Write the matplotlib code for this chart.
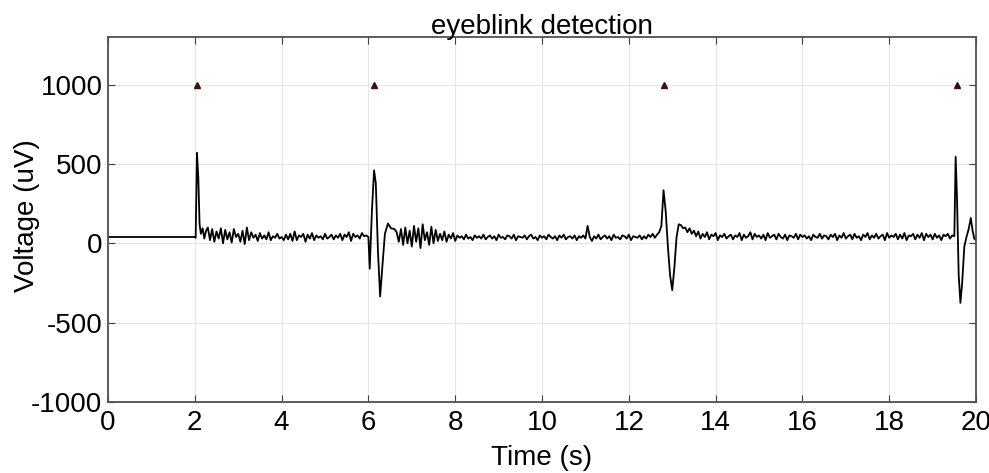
import numpy as np
import matplotlib
matplotlib.use("Agg")
import matplotlib.pyplot as plt

plt.rcParams['font.family'] = ['Liberation Sans', 'DejaVu Sans']
plt.rcParams['axes.unicode_minus'] = False

# flat start and the blink spikes (time s, voltage uV)
flat_t = [0.0, 2.0]
flat_v = [40, 40]

spike1_t = [2.02, 2.05, 2.08, 2.11, 2.14, 2.18, 2.22, 2.26]
spike1_v = [35, 570, 420, 120, 60, 95, 30, 80]

spike2_t = [6.0, 6.03, 6.08, 6.13, 6.17, 6.22, 6.27, 6.32, 6.38, 6.45, 6.52, 6.6]
spike2_v = [40, -160, 200, 460, 380, -50, -335, -150, 60, 125, 95, 90]

spike3_t = [12.7, 12.75, 12.8, 12.85, 12.9, 12.95, 13.0, 13.05, 13.1, 13.15, 13.2, 13.25]
spike3_v = [70, 110, 335, 200, -20, -200, -295, -150, 40, 120, 115, 95]

spike4_t = [19.5, 19.53, 19.56, 19.6, 19.64, 19.68, 19.73, 19.78, 19.83, 19.88, 19.92, 19.96, 20.0]
spike4_v = [45, 545, 300, -200, -375, -250, -20, 40, 90, 160, 80, 30, 20]

# background EEG between blinks
noise1_v = [100, 20, 90, 10, 75, 30, 95, 0, 85, 25,
            70, 5, 90, 40, 60, 10, 80, -5, 100, 20,
            70, 35, 55, 15, 65, 30, 50, 25, 70, 20,
            45, 35, 60, 30, 40, 20, 55, 25, 60, 15,
            75, 20, 50, 40, 60, 10, 55, 30, 65, 20,
            50, 35, 45, 25, 60, 30, 40, 55, 25, 50,
            35, 60, 20, 55, 40, 70, 15, 60, 40, 50,
            30, 65, 45, 50]

noise2_v = [70, 10, 90, -10, 100, 0, 80, -20, 110, 10, 95, -30, 120, 20, 70,
            -10, 105, 0, 85, 15, 60, 20, 75, 10, 55, 30, 65, 15, 50, 35,
            45, 25, 55, 30, 40, 20, 50, 35, 45, 30, 55, 25, 40, 50, 30,
            45, 20, 55, 35, 40, 25, 50, 45, 30, 55, 20, 45, 40, 35, 50,
            25, 45, 55, 30, 40, 20, 50, 35, 45, 25, 55, 40, 30, 45, 20,
            50, 35, 55, 25, 40, 45, 30, 50, 20, 45, 35, 50, 30,
            110, 40, 15,
            45, 30, 55, 25, 40, 50, 30, 45, 20, 55, 35, 40, 25, 50, 45,
            30, 55, 20, 45, 40, 35, 50, 25, 45, 30, 55, 40, 60, 35, 55]

noise3_v = [100, 70, 95, 60, 80, 45, 75, 30, 60, 40, 70, 25, 55, 45, 65, 20,
            50, 40, 60, 30, 45, 55, 25, 50, 40, 65, 20, 55, 35, 45, 70, 25,
            60, 40, 50, 30, 55, 20, 65, 35, 45, 55, 25, 60, 40, 30, 55, 20,
            50, 45, 35, 60, 25, 55, 40, 50, 30, 45, 20, 55, 40, 35, 60, 30,
            50, 45, 25, 55, 40, 60, 20, 50, 35, 65, 30, 45, 55, 25, 60, 35,
            45, 20, 55, 40, 65, 25, 50, 35, 60, 30, 45, 55, 20, 65, 35, 50,
            40, 60, 25, 55, 30, 65, 20, 50, 45, 60, 25, 55, 35, 65, 20, 60,
            40, 55, 25, 60, 35, 50, 20, 55, 45, 60, 30, 50]

# detected blinks
blink_t = [2.05, 6.12, 12.8, 19.55]
blink_v = [1000, 1000, 1000, 1000]

t = np.concatenate([flat_t, spike1_t,
                    np.linspace(2.3, 5.95, len(noise1_v)), spike2_t,
                    np.linspace(6.65, 12.65, len(noise2_v)), spike3_t,
                    np.linspace(13.3, 19.45, len(noise3_v)), spike4_t])
v = np.concatenate([flat_v, spike1_v, noise1_v, spike2_v,
                    noise2_v, spike3_v, noise3_v, spike4_v])

fig = plt.figure(figsize=(9.89, 4.73), dpi=100)
ax = fig.add_axes([0.1092, 0.150, 0.8777, 0.7717])

ax.plot(t, v, color='black', lw=1.3)
ax.plot(blink_t, blink_v, '^', color='#3a1010', markersize=5)

ax.set_xlim(0, 20)
ax.set_ylim(-1000, 1300)
ax.set_xticks(np.arange(0, 21, 2))
ax.set_yticks([-1000, -500, 0, 500, 1000])
ax.grid(True, color='#e6e6e6', lw=0.8)
ax.tick_params(direction='in', top=True, right=True, labelsize=20, length=5, color='#404040')
ax.tick_params(axis='x', pad=6)
ax.tick_params(axis='y', pad=4)
for s in ax.spines.values():
    s.set_color('#505050')
    s.set_linewidth(1.3)

ax.set_xlabel('Time (s)', fontsize=20)
ax.xaxis.set_label_coords(0.5, -0.118)
ax.set_ylabel('Voltage (uV)', fontsize=20)
ax.yaxis.set_label_coords(-0.078, 0.51)
ax.set_title('eyeblink detection', fontsize=20, pad=2)

fig.savefig('out.png', dpi=100)
